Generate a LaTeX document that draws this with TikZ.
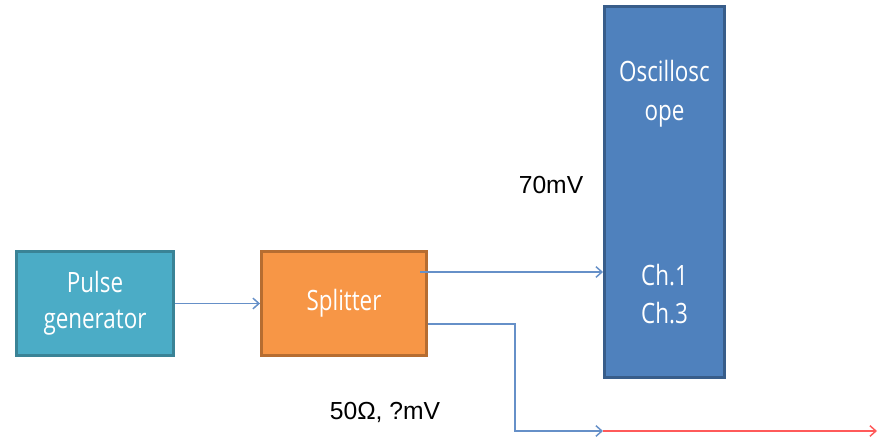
\documentclass[tikz,border=0pt]{standalone}
\usepackage{fontspec}
\setmainfont{Liberation Sans}
\newfontfamily\boxfont[FakeStretch=0.8]{Open Sans}
\usetikzlibrary{arrows.meta,calc,positioning}

\definecolor{pulsefill}{HTML}{4BACC6}
\definecolor{pulseline}{HTML}{3A8396}
\definecolor{splitfill}{HTML}{F79646}
\definecolor{splitline}{HTML}{B66D31}
\definecolor{scopefill}{HTML}{4F81BD}
\definecolor{scopeline}{HTML}{385D8A}
\definecolor{wireblue}{HTML}{6690C8}
\definecolor{wirered}{HTML}{FF5A5A}

\tikzset{
  unit/.style={draw, line width=2.2pt, inner sep=0pt, align=center,
    text=white, font=\boxfont\fontsize{21}{27}\selectfont},
  boxtext/.style={text=white, align=center, font=\boxfont\fontsize{21}{29}\selectfont},
  link/.style={draw=wireblue, line width=1.1pt,
    -{Straight Barb[length=4.5pt,width=8pt,line width=1.1pt]}},
  redlink/.style={link, draw=wirered},
  volt/.style={font=\fontsize{18.5}{22}\selectfont}
}

\begin{document}
\begin{tikzpicture}[x=0.75pt,y=-0.75pt]
\useasboundingbox (0,0) rectangle (886,441);

% Boxes
\node[unit, fill=pulsefill, draw=pulseline, minimum width=117.75pt, minimum height=78pt]
  (pulsegen) at (95,303.5) {Pulse\\generator};
\node[unit, fill=splitfill, draw=splitline, minimum width=123.75pt, minimum height=78pt]
  (splitter) at (344,303.5) {Splitter};
\node[unit, fill=scopefill, draw=scopeline, minimum width=90pt, minimum height=278.25pt]
  (scope) at (664.5,192) {};

% Scope texts
\node[boxtext] (scopename) at (664.5,94) {Oscillosc\\ope};
\node[boxtext] (channels) at (664.5,294) {Ch.1\\Ch.3};

% Wire points
\coordinate (out1) at (420,272);
\coordinate (out2) at (428,324);
\coordinate (bend) at (515,324);
\coordinate (tee) at (603,431);
\coordinate (far) at (877,431);

% Wires
\draw[link] (pulsegen.east) -- (splitter.west);
\draw[link] (out1) -- (out1 -| scope.west);
\draw[link] (out2) -- (bend) |- (tee);
\draw[redlink] (tee) -- (far);

% Levels
\node[volt] (upper) at (551,185) {70mV};
\node[volt] (lower) at (385,412) {50Ω, ?mV};

\end{tikzpicture}
\end{document}
